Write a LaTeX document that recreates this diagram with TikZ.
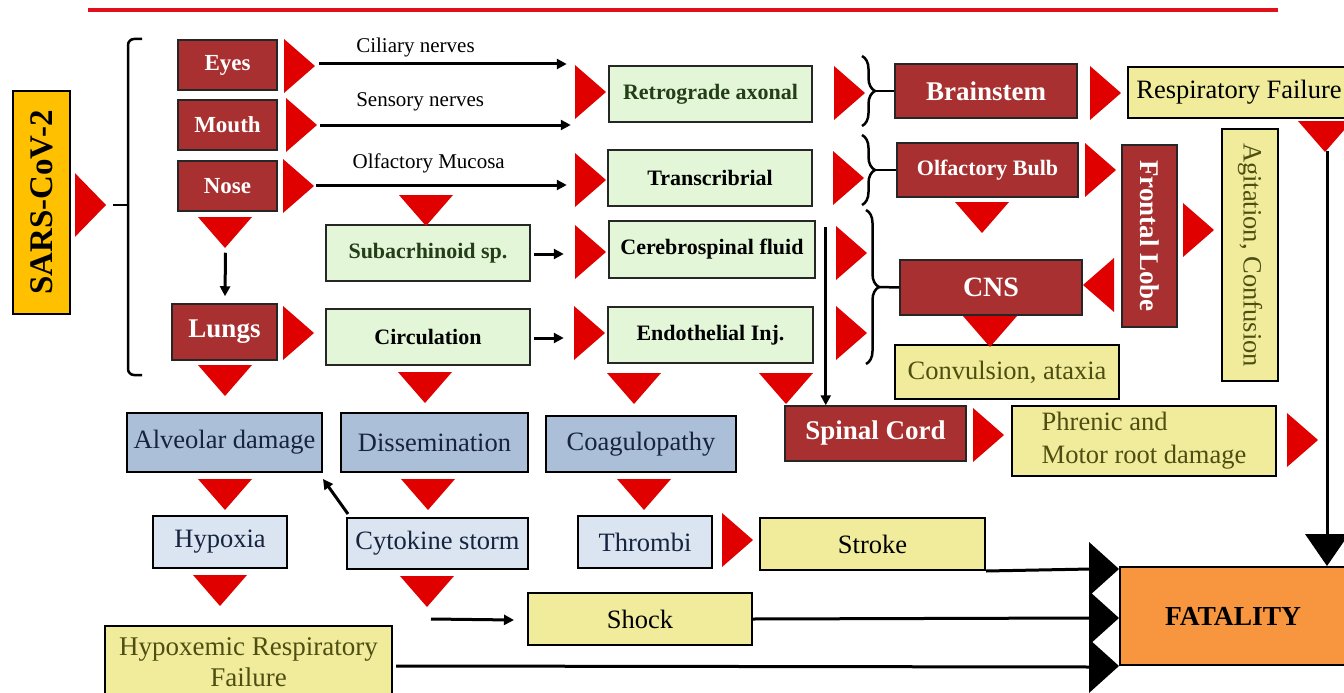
\documentclass[tikz,border=0pt]{standalone}
\usepackage{fontspec}
\setmainfont{Liberation Serif}
\usetikzlibrary{positioning,calc,arrows.meta,decorations.pathreplacing}
\definecolor{boxred}{RGB}{168,48,48}
\definecolor{trired}{RGB}{224,0,0}
\definecolor{linered}{RGB}{226,16,26}
\definecolor{palegreen}{RGB}{227,246,216}
\definecolor{darkgreen}{RGB}{36,62,24}
\definecolor{paleyellow}{RGB}{240,236,156}
\definecolor{txtolive}{RGB}{78,78,18}
\definecolor{greyblue}{RGB}{172,191,216}
\definecolor{paleblue}{RGB}{219,229,241}
\definecolor{navytxt}{RGB}{22,36,62}
\definecolor{sarsorange}{RGB}{255,192,0}
\definecolor{fatalorange}{RGB}{248,150,64}
\begin{document}
\begin{tikzpicture}[x=1pt,y=-1pt]

    \tikzset{
      sz/.style 2 args={minimum width=#1, minimum height=#2},
      redbox/.style={draw=black!85, line width=1.5, fill=boxred, text=white, inner sep=0pt, font=\bfseries\fontsize{23}{26}\selectfont},
      bigred/.style={redbox, font=\bfseries\fontsize{27}{30}\selectfont},
      greenbox/.style={draw=black!85, line width=1.5, fill=palegreen, inner sep=0pt, font=\bfseries\fontsize{22}{25}\selectfont},
      bluebox/.style={draw=black, line width=2, fill=greyblue, text=navytxt, inner sep=0pt, font=\fontsize{26.5}{30}\selectfont},
      lbluebox/.style={bluebox, fill=paleblue},
      yelbox/.style={draw=black, line width=2, fill=paleyellow, inner sep=0pt, font=\fontsize{26.5}{31}\selectfont},
      lbl/.style={inner sep=0pt, font=\fontsize{21}{24}\selectfont},
      conn/.style={line width=3, black},
      arr/.style={conn, -{Triangle[length=10pt,width=10pt]}},
      brc/.style={line width=2.5, decorate, decoration={brace, amplitude=13pt}},
      tright/.pic={\fill[trired] (-15,-27) -- (16,0) -- (-15,27) -- cycle;},
      tleft/.pic={\fill[trired] (15,-27) -- (-16,0) -- (15,27) -- cycle;},
      tdown/.pic={\fill[trired] (-27,-15) -- (27,-15) -- (0,16) -- cycle;},
      bright/.pic={\fill[black] (-15,-27) -- (15,0) -- (-15,27) -- cycle;},
      bdown/.pic={\fill[black] (-22,-16) -- (22,-16) -- (0,16) -- cycle;},
    }
    \useasboundingbox (0,0) rectangle (1344,693);
    \clip (0,0) rectangle (1344,693);
    \draw[color=linered, line width=4] (88,10) -- (1278,10);

    % entry points
    \node[draw=black, line width=1.5, fill=sarsorange, inner sep=0pt, rotate=90, sz={223}{57}, font=\bfseries\fontsize{33}{36}\selectfont] (sars) at (41.5,202.5) {SARS-CoV-2};
    \node[redbox, sz={99}{50}] (eyes) at (227.5,65) {Eyes};
    \node[redbox, sz={99}{50}] (mouth) at (227.5,125) {Mouth};
    \node[redbox, sz={99}{50}] (nose) at (227.5,186) {Nose};
    \node[bigred, sz={105}{56}] (lungs) at (224.5,332) {Lungs};

    % routes
    \node[greenbox, sz={203}{56}, text=darkgreen] (retro) at (710.5,94) {Retrograde axonal};
    \node[greenbox, sz={204}{56}] (trans) at (710,178) {Transcribrial};
    \node[greenbox, sz={206}{57}] (csf) at (712,249.5) {Cerebrospinal fluid};
    \node[greenbox, sz={205}{56}] (endo) at (710.5,335) {Endothelial Inj.};
    \node[greenbox, sz={204}{56}, text=darkgreen] (subarach) at (428,253) {Subacrhinoid sp.};
    \node[greenbox, sz={204}{56}] (circ) at (428,337) {Circulation};

    % nervous system
    \node[bigred, sz={182}{54}] (brain) at (986,91) {Brainstem};
    \node[redbox, sz={181}{54}, font=\bfseries\fontsize{22}{25}\selectfont] (bulb) at (987.5,170) {Olfactory Bulb};
    \node[bigred, sz={182}{55}, font=\bfseries\fontsize{28}{31}\selectfont] (cns) at (991,287.5) {CNS};
    \node[bigred, rotate=-90, sz={182}{55}] (front) at (1149.5,236) {Frontal Lobe};
    \node[bigred, sz={181}{55}] (spinal) at (875.5,433.5) {Spinal Cord};
    \node[yelbox, sz={222}{51}] (resp) at (1239,92.5) {Respiratory Failure};
    \node[yelbox, rotate=-90, sz={252}{56}, text=txtolive] (agit) at (1250,255) {Agitation, Confusion};
    \node[yelbox, sz={224}{54}, text=txtolive] (conv) at (1007,372) {Convulsion, ataxia};
    \node[yelbox, sz={264}{70}, text=txtolive, align=left, font=\fontsize{26.5}{33}\selectfont] (phren) at (1144,441) {Phrenic and\\Motor root damage};

    % systemic
    \node[bluebox, sz={195}{59}] (alv) at (224.5,442.5) {Alveolar damage};
    \node[bluebox, sz={187}{59}] (diss) at (434.5,442.5) {Dissemination};
    \node[bluebox, sz={190}{56}] (coag) at (641,444) {Coagulopathy};
    \node[lbluebox, sz={134}{52}] (hypox) at (220,542) {Hypoxia};
    \node[lbluebox, sz={181}{51}] (cyto) at (437.5,543.5) {Cytokine storm};
    \node[lbluebox, sz={134}{52}] (thromb) at (645,542) {Thrombi};
    \node[yelbox, sz={225}{52}] (stroke) at (872.5,544) {Stroke};
    \node[yelbox, sz={224}{52}] (shock) at (640,619) {Shock};
    \node[yelbox, sz={287}{72}, text=txtolive, align=center, font=\fontsize{27}{31}\selectfont] (hypoxem) at (248.5,662) {Hypoxemic Respiratory\\Failure};
    \node[draw=black, line width=2, fill=fatalorange, inner sep=0pt, sz={226}{98}, font=\bfseries\fontsize{27.5}{30}\selectfont] (fatal) at (1233,616) {FATALITY};

    % brackets
    \draw[line width=2.5, rounded corners=6] (142,39) -- (128,39) -- (128,375) -- (142,375);
    \draw[line width=2.5] (113,205) -- (128,205);
    \draw[brc] (862,56) -- (862,126);
    \draw[brc] (862,135) -- (862,205);
    \draw[brc] (866,210) -- (866,364);
    \draw[line width=2.5] (874,91) -- (brain.west);
    \draw[line width=2.5] (874,170) -- (bulb.west);
    \draw[line width=2.5] (879,287) -- (cns.west);

    % connectors
    \draw[arr] ($(eyes.east)+(41,-1)$) -- node[lbl, pos=0.39, above=5pt] (cil) {Ciliary nerves} ($(eyes.east)+(289,-1)$);
    \draw[arr] ($(mouth.east)+(42,0)$) -- node[lbl, pos=0.40, above=12pt] (sens) {Sensory nerves} ($(mouth.east)+(293,0)$);
    \draw[arr] ($(nose.east)+(38,-1)$) -- node[lbl, pos=0.45, above=10pt] (olf) {Olfactory Mucosa} ($(nose.east)+(289,-1)$);
    \draw[arr] ($(nose.south)+(-2,41)$) -- ($(lungs.north)+(0.5,-7)$);
    \draw[arr] ($(subarach.east)+(3,1)$) -- ($(subarach.east)+(33,1)$);
    \draw[arr] ($(circ.east)+(3,1)$) -- ($(circ.east)+(33,1)$);
    \draw[arr] ($(csf.north east)+(10,7)$) coordinate (csfdrop) -- (csfdrop |- spinal.north);
    \draw[arr] ($(cyto.north west)+(2,-3)$) -- ($(alv.south east)+(0,6)$);
    \draw[arr] ($(cyto.south)+(-6.5,49)$) -- ($(shock.west)+(-13,1)$);
    \draw[conn] (stroke.south east) -- ($(fatal.north west)+(-28,3)$);
    \draw[conn] (shock.east) -- ($(fatal.west)+(-28,2)$);
    \draw[conn] ($(hypoxem.east)+(3,4)$) -- ($(fatal.south west)+(-28,1)$);
    \draw[conn] ($(resp.south east)+(-24,32)$) coordinate (rfdrop) -- ($(rfdrop |- fatal.north)+(0,-10)$);
    \pic at ($(fatal.north west)+(-15,3)$) {bright};
    \pic at ($(fatal.west)+(-15,2)$) {bright};
    \pic at ($(fatal.south west)+(-15,0)$) {bright};
    \pic at ($(rfdrop |- fatal.north)+(0,-16)$) {bdown};

    % red heads
    \pic[yscale=1.18] at (90,205) {tright};
    \pic at (299,66) {tright};
    \pic at (301,125) {tright};
    \pic at (298,186) {tright};
    \pic at (298,333) {tright};
    \pic at (590,92) {tright};
    \pic at (590,180) {tright};
    \pic at (590,252) {tright};
    \pic at (589,333) {tright};
    \pic at (849,93) {tright};
    \pic at (848,178) {tright};
    \pic at (851,253) {tright};
    \pic at (851,333) {tright};
    \pic at (1105,93) {tright};
    \pic at (1100,170) {tright};
    \pic at (1198,230) {tright};
    \pic at (988,435) {tright};
    \pic at (1302,440) {tright};
    \pic at (737,540) {tright};
    \pic at (1099,285) {tleft};
    \pic at (225,232) {tdown};
    \pic at (225,380) {tdown};
    \pic at (426,210) {tdown};
    \pic at (425,387) {tdown};
    \pic at (634,388) {tdown};
    \pic at (786,388) {tdown};
    \pic at (982,217) {tdown};
    \pic at (990,331) {tdown};
    \pic at (1325,136) {tdown};
    \pic at (225,494) {tdown};
    \pic at (428,494) {tdown};
    \pic at (644,494) {tdown};
    \pic at (220,590) {tdown};
    \pic at (427,591) {tdown};

\end{tikzpicture}
\end{document}
